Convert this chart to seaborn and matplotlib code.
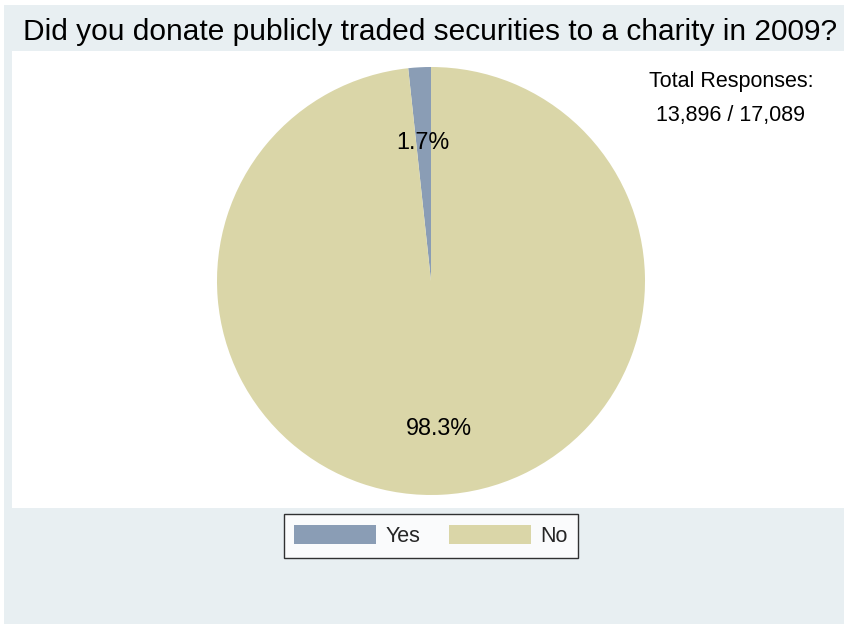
import matplotlib
matplotlib.use("Agg")
import matplotlib.pyplot as plt
from matplotlib.patches import Rectangle, Patch
import seaborn as sns

# Survey answers
categories = ["Yes", "No"]
shares = [1.7, 98.3]
title = "Did you donate publicly traded securities to a charity in 2009?"
note_lines = ["Total Responses:", "13,896 / 17,089"]

sns.set_style("white")
plt.rcParams["font.family"] = ["Liberation Sans", "DejaVu Sans"]

colors = sns.color_palette(["#8a9db5", "#dad6a8"])
bg = "#e8eff2"

W, H = 844, 624
fig = plt.figure(figsize=(W / 100, H / 100), dpi=100)
fig.patch.set_facecolor("white")

def fx(px):
    return px / W

def fy(py):
    return 1 - py / H

# outer tinted panel and white plot region
fig.patches.append(Rectangle((fx(4), 0), 1 - fx(4), fy(5), transform=fig.transFigure,
                             facecolor=bg, edgecolor="none", zorder=-2))
fig.patches.append(Rectangle((fx(12), fy(508)), 1 - fx(12), fy(51) - fy(508),
                             transform=fig.transFigure, facecolor="white",
                             edgecolor="none", zorder=-1))

# pie axes: centre (431, 281), radius 214 px
cx, cy, r = 431, 281, 214
ax = fig.add_axes([fx(cx - r), fy(cy + r), fx(2 * r), fy(cy - r) - fy(cy + r)])
ax.set_zorder(2)
ax.set_facecolor("none")
wedges, texts, autotexts = ax.pie(
    shares, colors=colors, startangle=90, counterclock=True,
    autopct="%.1f%%", pctdistance=0.67, radius=1.0,
    wedgeprops=dict(edgecolor="none", linewidth=0),
    textprops=dict(fontsize=16.8, color="black"),
)
# percent labels sit slightly below their anchor points
for t in autotexts:
    x0, y0 = t.get_position()
    t.set_position((x0, y0 - 0.022))
ax.set_xlim(-1, 1)
ax.set_ylim(-1, 1)
ax.set_aspect("equal")
ax.axis("off")

fig.text(fx(430.5), fy(32), title, ha="center", va="center", fontsize=21.5, color="black")
fig.text(fx(731), fy(82), note_lines[0], ha="center", va="center", fontsize=15.5, color="black")
fig.text(fx(731), fy(115), note_lines[1], ha="center", va="center", fontsize=15.5, color="black")

handles = [Patch(facecolor=c, edgecolor="none", label=l) for c, l in zip(colors, categories)]
leg = fig.legend(handles=handles, loc="center", bbox_to_anchor=(fx(431), fy(536)),
                 ncol=2, fontsize=15.5, frameon=True, fancybox=False,
                 handlelength=3.8, handleheight=1.0, handletextpad=0.45,
                 columnspacing=1.3, borderpad=0.5, borderaxespad=0)
leg.get_frame().set_edgecolor("black")
leg.get_frame().set_linewidth(1.0)
leg.get_frame().set_facecolor("white")

fig.savefig("out.png", dpi=100, facecolor=fig.get_facecolor())
